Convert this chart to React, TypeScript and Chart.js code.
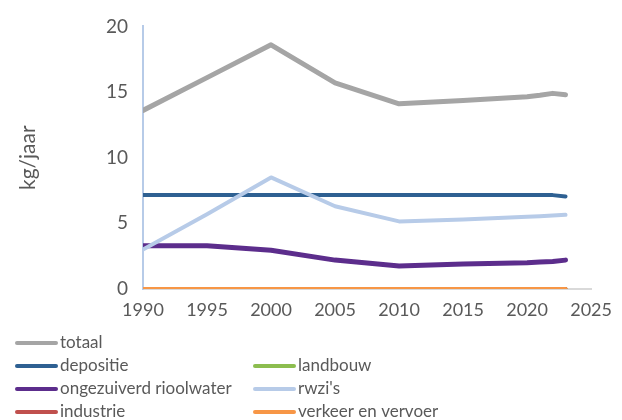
import React, { useEffect, useRef } from "react";
import { Chart, registerables } from "chart.js";

Chart.register(...registerables);

const years = [1990, 1995, 2000, 2005, 2010, 2015, 2020, 2021, 2022, 2023];
const totaal = [13.6, 16.1, 18.6, 15.7, 14.1, 14.35, 14.65, 14.75, 14.9, 14.8];
const depositie = [7.15, 7.15, 7.15, 7.15, 7.15, 7.15, 7.15, 7.15, 7.15, 7.05];
const landbouw = [0, 0, 0, 0, 0, 0, 0, 0, 0, 0];
const ongezuiverd = [3.3, 3.3, 2.95, 2.2, 1.75, 1.9, 2.0, 2.05, 2.1, 2.2];
const rwzis = [3.0, 5.7, 8.5, 6.3, 5.15, 5.3, 5.5, 5.55, 5.6, 5.65];
const industrie = [0, 0, 0, 0, 0, 0, 0, 0, 0, 0];
const verkeer = [0, 0, 0, 0, 0, 0, 0, 0, 0, 0];

const seriesNames = [
  "totaal",
  "depositie",
  "landbouw",
  "ongezuiverd rioolwater",
  "rwzi's",
  "industrie",
  "verkeer en vervoer",
];
const seriesColors = ["#a5a5a5", "#2e6092", "#8cbd4f", "#5c2d8c", "#b7cbe8", "#c0504d", "#f79646"];
const seriesWidths = [5, 4, 4, 5, 4, 4, 4];
const yTicks = [0, 5, 10, 15, 20];
const xTicks = [1990, 1995, 2000, 2005, 2010, 2015, 2020, 2025];

const FONT = "Lato, 'Open Sans', sans-serif";
const TEXT = "#595959";

// legend grid: [row, col] per series
const legendSlots: [number, number][] = [
  [0, 0],
  [1, 0],
  [1, 1],
  [2, 0],
  [2, 1],
  [3, 0],
  [3, 1],
];

const legendPlugin = {
  id: "customLegend",
  afterDraw(chart: any) {
    const ctx = chart.ctx;
    ctx.save();
    ctx.font = `17px ${FONT}`;
    ctx.textBaseline = "middle";
    chart.data.datasets.forEach((ds: any, i: number) => {
      const [row, col] = legendSlots[i];
      const y = 343 + row * 23;
      const x0 = col === 0 ? 15 : 253;
      ctx.strokeStyle = ds.borderColor;
      ctx.lineWidth = 4;
      ctx.lineCap = "round";
      ctx.beginPath();
      ctx.moveTo(x0 + 2, y);
      ctx.lineTo(x0 + 41, y);
      ctx.stroke();
      ctx.fillStyle = TEXT;
      ctx.textAlign = "left";
      ctx.fillText(ds.label, x0 + 45, y);
    });
    ctx.restore();
  },
};

export default function App() {
  const ref = useRef<HTMLCanvasElement>(null);
  useEffect(() => {
    document.body.style.margin = "0";
    const values = [totaal, depositie, landbouw, ongezuiverd, rwzis, industrie, verkeer];
    const chart = new Chart(ref.current!, {
      type: "line",
      data: {
        datasets: values.map((v, i) => ({
          label: seriesNames[i],
          data: v.map((y, j) => ({ x: years[j], y })),
          borderColor: seriesColors[i],
          backgroundColor: seriesColors[i],
          borderWidth: seriesWidths[i],
          pointRadius: 0,
          borderCapStyle: "round" as const,
          borderJoinStyle: "round" as const,
          tension: 0,
          order: values.length - i,
        })),
      },
      options: {
        animation: false,
        responsive: false,
        maintainAspectRatio: false,
        layout: { padding: { top: 24, right: 23, bottom: 91, left: 0 } },
        plugins: { legend: { display: false }, tooltip: { enabled: false } },
        scales: {
          x: {
            type: "linear",
            min: 1990,
            max: 2025,
            afterBuildTicks: (s: any) => {
              s.ticks = xTicks.map((v) => ({ value: v }));
            },
            afterFit: (s: any) => {
              s.height = 40;
            },
            grid: { display: false, drawTicks: false },
            border: { display: true, color: "#d9d9d9", width: 2 },
            ticks: {
              color: TEXT,
              font: { family: FONT, size: 18 },
              padding: 10,
              maxRotation: 0,
              callback: (v: any) => String(v),
            },
          },
          y: {
            min: 0,
            max: 20,
            afterBuildTicks: (s: any) => {
              s.ticks = yTicks.map((v) => ({ value: v }));
            },
            afterFit: (s: any) => {
              s.width = 143;
            },
            grid: { display: false, drawTicks: false },
            border: { display: true, color: "#b7cbe8", width: 2 },
            ticks: {
              color: TEXT,
              font: { family: FONT, size: 19 },
              padding: 15,
            },
            title: {
              display: true,
              text: "kg/jaar",
              color: TEXT,
              font: { family: FONT, size: 21 },
              padding: { top: 16, bottom: 50 },
            },
          },
        },
      },
      plugins: [legendPlugin],
    });
    return () => chart.destroy();
  }, []);
  return <canvas ref={ref} width={622} height={420} style={{ display: "block" }} />;
}
